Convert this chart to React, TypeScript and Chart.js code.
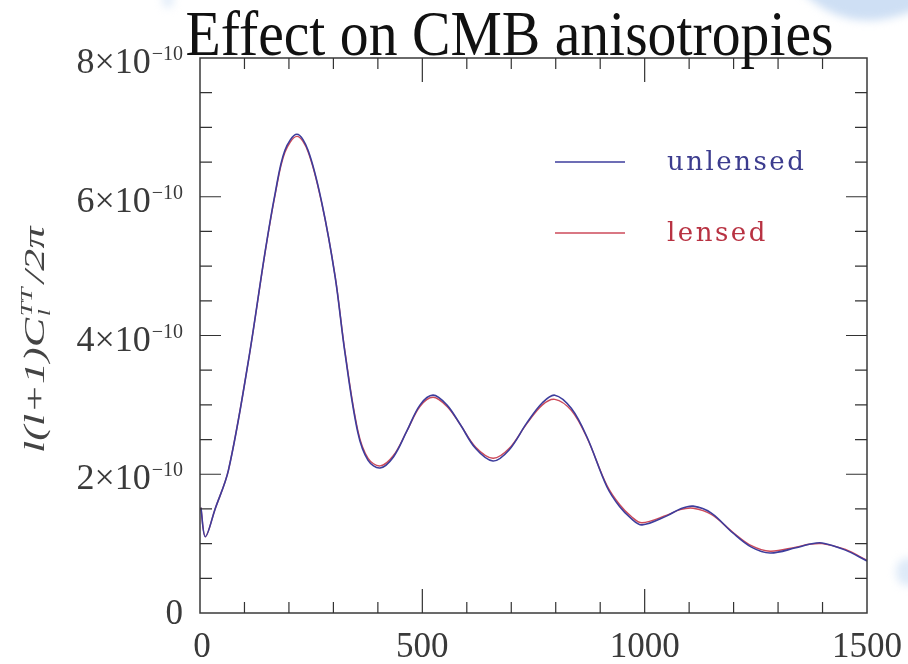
import { useEffect, useRef } from "react";
import { Chart, registerables } from "chart.js";

Chart.register(...registerables);

// Multipole moments l sampled along the spectrum
const multipoles = [
  2, 12, 34, 64, 108, 146, 169, 191, 218, 243, 274, 304, 326, 355, 378, 405,
  435, 465, 495, 524, 555, 585, 620, 659, 695, 735, 770, 798, 835, 870, 915,
  944, 970, 994, 1050, 1080, 1109, 1150, 1199, 1240, 1282, 1340, 1370, 1399,
  1450, 1500,
];

// l(l+1)C_l^TT / 2pi without lensing
const unlensedPower = [
  1.52e-10, 1.1e-10, 1.5e-10, 2.06e-10, 3.6e-10, 5.19e-10, 6.05e-10, 6.67e-10,
  6.9e-10, 6.67e-10, 5.91e-10, 4.84e-10, 3.75e-10, 2.6e-10, 2.2e-10, 2.09e-10,
  2.25e-10, 2.62e-10, 3.0e-10, 3.14e-10, 3.0e-10, 2.72e-10, 2.37e-10,
  2.19e-10, 2.35e-10, 2.74e-10, 3.03e-10, 3.14e-10, 2.95e-10, 2.54e-10,
  1.82e-10, 1.53e-10, 1.36e-10, 1.27e-10, 1.4e-10, 1.5e-10, 1.54e-10,
  1.44e-10, 1.15e-10, 0.95e-10, 0.865e-10, 0.94e-10, 0.99e-10, 1.01e-10,
  0.91e-10, 0.75e-10,
];

// l(l+1)C_l^TT / 2pi with lensing (peaks smoothed slightly)
const lensedPower = [
  1.52e-10, 1.1e-10, 1.5e-10, 2.06e-10, 3.6e-10, 5.18e-10, 6.03e-10, 6.64e-10,
  6.87e-10, 6.65e-10, 5.9e-10, 4.85e-10, 3.77e-10, 2.63e-10, 2.23e-10,
  2.12e-10, 2.27e-10, 2.62e-10, 2.98e-10, 3.11e-10, 2.98e-10, 2.72e-10,
  2.39e-10, 2.23e-10, 2.37e-10, 2.73e-10, 3.0e-10, 3.08e-10, 2.92e-10,
  2.53e-10, 1.84e-10, 1.56e-10, 1.39e-10, 1.3e-10, 1.41e-10, 1.49e-10,
  1.51e-10, 1.42e-10, 1.16e-10, 0.97e-10, 0.89e-10, 0.95e-10, 0.99e-10,
  1.0e-10, 0.92e-10, 0.76e-10,
];

const seriesLabels = ["unlensed", "lensed"];
const seriesColors = ["#3d3d9c", "#cc4a5a"];
const legendTextColors = ["#3c3c8e", "#b83242"];

const xMajorTicks = [0, 500, 1000, 1500];
const xTickLabels = ["0", "500", "1000", "1500"];
const xMinorStep = 100;

const yMajorTicks = [0, 2e-10, 4e-10, 6e-10, 8e-10];
const yTickMantissas = ["0", "2", "4", "6", "8"];
const yTickExponent = "\u221210";
const yMinorStep = 0.5e-10;

const titleText = "Effect on CMB anisotropies";

const SERIF = '"Liberation Serif", "Times New Roman", serif';

// white page with the faint pale-blue slide ornaments along the edges
const decorPlugin = {
  id: "decor",
  beforeDraw(chart: any) {
    const ctx = chart.ctx;
    ctx.save();
    ctx.fillStyle = "#ffffff";
    ctx.fillRect(0, 0, chart.width, chart.height);
    ctx.filter = "blur(4px)";
    ctx.fillStyle = "rgba(190, 212, 240, 0.75)";
    ctx.beginPath();
    ctx.moveTo(800, -10);
    ctx.quadraticCurveTo(850, 40, 920, 8);
    ctx.lineTo(920, -10);
    ctx.closePath();
    ctx.fill();
    ctx.fillStyle = "rgba(200, 220, 244, 0.5)";
    ctx.beginPath();
    ctx.ellipse(168, 0, 6, 8, 0, 0, Math.PI * 2);
    ctx.fill();
    ctx.fillStyle = "rgba(200, 220, 244, 0.6)";
    ctx.beginPath();
    ctx.ellipse(908, 572, 12, 14, 0, 0, Math.PI * 2);
    ctx.fill();
    ctx.restore();
  },
};

const framePlugin = {
  id: "frame",
  afterDatasetsDraw(chart: any) {
    const ctx = chart.ctx;
    const { left, right, top, bottom } = chart.chartArea;
    const xs = chart.scales.x;
    const ys = chart.scales.y;

    ctx.save();
    ctx.strokeStyle = "#3a3a3a";
    ctx.lineWidth = 1.5;
    ctx.strokeRect(left, top, right - left, bottom - top);

    ctx.lineWidth = 1.2;
    ctx.strokeStyle = "#333";
    ctx.beginPath();
    for (let v = xs.min + xMinorStep; v < xs.max; v += xMinorStep) {
      const px = xs.getPixelForValue(v);
      const major = xMajorTicks.includes(v);
      const len = major ? 24 : 11;
      ctx.moveTo(px, bottom);
      ctx.lineTo(px, bottom - len);
      ctx.moveTo(px, top);
      ctx.lineTo(px, top + len);
    }
    for (let i = 1; ys.min + i * yMinorStep < ys.max - 1e-14; i++) {
      const v = ys.min + i * yMinorStep;
      const py = ys.getPixelForValue(v);
      const major = yMajorTicks.some((t) => Math.abs(t - v) < 1e-13);
      const len = major ? 21 : 12;
      ctx.moveTo(left, py);
      ctx.lineTo(left + len, py);
      ctx.moveTo(right, py);
      ctx.lineTo(right - len, py);
    }
    ctx.stroke();

    // x tick labels
    ctx.fillStyle = "#3a3a3a";
    ctx.font = `35px ${SERIF}`;
    ctx.textAlign = "center";
    ctx.textBaseline = "alphabetic";
    xMajorTicks.forEach((v, i) => {
      const px = xs.getPixelForValue(v);
      ctx.fillText(xTickLabels[i], px + (i === 0 ? 2 : 0), bottom + 44);
    });

    // y tick labels with power-of-ten superscript
    const labelRight = left - 17;
    yMajorTicks.forEach((v, i) => {
      const py = ys.getPixelForValue(v);
      ctx.textAlign = "right";
      if (yTickMantissas[i] === "0") {
        ctx.font = `35px ${SERIF}`;
        ctx.fillText("0", labelRight, py + 11);
        return;
      }
      ctx.font = `20px ${SERIF}`;
      const supW = ctx.measureText(yTickExponent).width;
      ctx.fillText(yTickExponent, labelRight, py + 2);
      ctx.font = `36px ${SERIF}`;
      ctx.fillText(`${yTickMantissas[i]}\u00d710`, labelRight - supW - 1, py + 15);
    });
    ctx.restore();
  },
  afterDraw(chart: any) {
    const ctx = chart.ctx;
    const { left, right, top, bottom } = chart.chartArea;

    // title, set in a tall narrow serif
    ctx.save();
    ctx.font = `64px ${SERIF}`;
    ctx.fillStyle = "#111";
    ctx.textBaseline = "alphabetic";
    ctx.textAlign = "left";
    const tw = ctx.measureText(titleText).width;
    const targetW = 648;
    const cx = (left + right) / 2 - 24;
    ctx.translate(cx - targetW / 2, top - 3);
    ctx.scale(targetW / tw, 1);
    ctx.fillText(titleText, 0, 0);
    ctx.restore();

    // rotated y-axis title: l(l+1)C_l^TT / 2pi
    ctx.save();
    const centerY = (top + bottom) / 2 + 5;
    ctx.translate(44, centerY);
    ctx.rotate(-Math.PI / 2);
    ctx.fillStyle = "#444";
    ctx.textBaseline = "alphabetic";
    ctx.textAlign = "left";
    const mainFont = `italic 29px ${SERIF}`;
    const smallFont = `italic 17px ${SERIF}`;
    ctx.font = mainFont;
    const w1 = ctx.measureText("l(l+1)C").width;
    const w4 = ctx.measureText("/2\u03c0").width;
    ctx.font = smallFont;
    const wSub = ctx.measureText("l").width;
    const wSup = ctx.measureText("TT").width;
    const wMid = Math.max(wSub, wSup) + 3;
    const natural = w1 + wMid + w4;
    const targetLen = 225;
    ctx.scale(targetLen / natural, 1);
    let x = -natural / 2;
    ctx.font = mainFont;
    ctx.fillText("l(l+1)C", x, 0);
    x += w1 + 1;
    ctx.font = smallFont;
    ctx.fillText("l", x, 6);
    ctx.fillText("TT", x, -12);
    x += wMid;
    ctx.font = mainFont;
    ctx.fillText("/2\u03c0", x, 0);
    ctx.restore();

    // legend inside the plot
    ctx.save();
    const rows = [162, 233];
    chart.data.datasets.forEach((ds: any, i: number) => {
      const y = rows[i];
      ctx.strokeStyle = ds.borderColor;
      ctx.lineWidth = 1.5;
      ctx.beginPath();
      ctx.moveTo(555, y);
      ctx.lineTo(625, y);
      ctx.stroke();
      ctx.font = `26px "DejaVu Serif", serif`;
      (ctx as any).letterSpacing = "2.5px";
      ctx.fillStyle = legendTextColors[i];
      ctx.textAlign = "left";
      ctx.textBaseline = "alphabetic";
      ctx.fillText(ds.label, 667, y + 8);
    });
    ctx.restore();
  },
};

export default function App() {
  const canvasRef = useRef<HTMLCanvasElement | null>(null);

  useEffect(() => {
    const canvas = canvasRef.current;
    if (!canvas) return;
    const chart = new Chart(canvas, {
      type: "line",
      data: {
        datasets: [
          {
            label: seriesLabels[0],
            data: multipoles.map((l, i) => ({ x: l, y: unlensedPower[i] })),
            borderColor: seriesColors[0],
            borderWidth: 1.6,
            pointRadius: 0,
            tension: 0.35,
            order: 1,
          },
          {
            label: seriesLabels[1],
            data: multipoles.map((l, i) => ({ x: l, y: lensedPower[i] })),
            borderColor: seriesColors[1],
            borderWidth: 1.4,
            pointRadius: 0,
            tension: 0.35,
            order: 2,
          },
        ],
      },
      options: {
        responsive: false,
        animation: false,
        devicePixelRatio: 1,
        layout: { padding: { left: 200, top: 58, right: 41, bottom: 51 } },
        plugins: {
          legend: { display: false },
          title: { display: false },
          tooltip: { enabled: false },
        },
        scales: {
          x: { type: "linear", min: 0, max: 1500, display: false },
          y: { type: "linear", min: 0, max: 8e-10, display: false },
        },
      },
      plugins: [decorPlugin, framePlugin],
    });
    return () => chart.destroy();
  }, []);

  return (
    <div
      style={{
        position: "fixed",
        left: 0,
        top: 0,
        width: 908,
        height: 664,
        background: "#fff",
      }}
    >
      <canvas ref={canvasRef} width={908} height={664} />
    </div>
  );
}
